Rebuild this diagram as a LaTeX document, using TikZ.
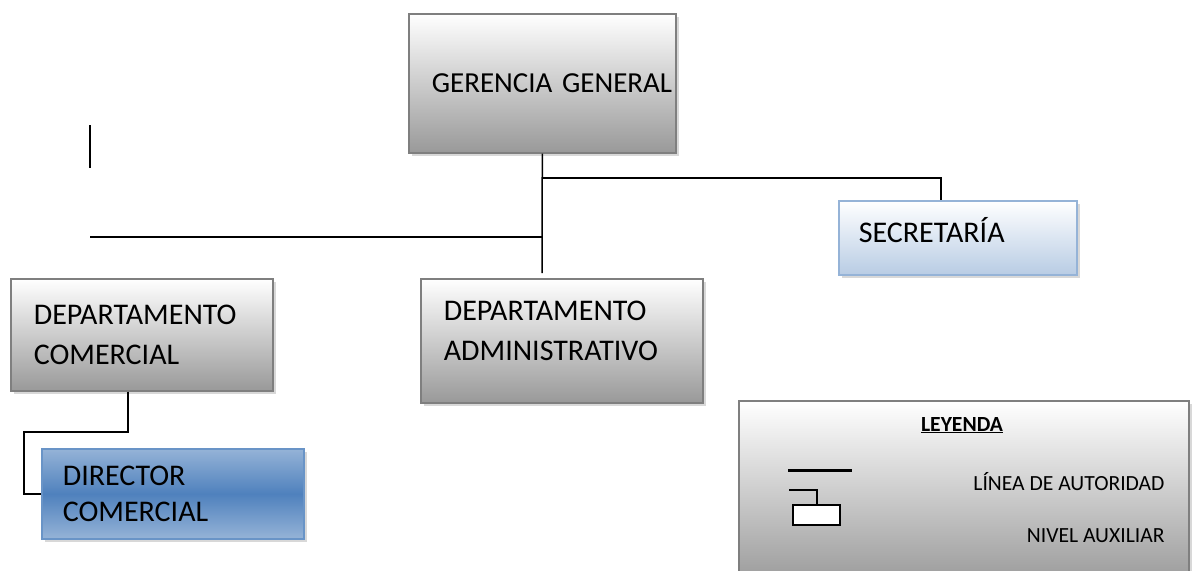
\documentclass[tikz,border=0pt]{standalone}
\usepackage{fontspec}
\setmainfont{Carlito}
\usepackage{tikz}
\usetikzlibrary{shadows,calc}

\definecolor{boxgray}{HTML}{7F7F7F}
\definecolor{lightblue}{HTML}{B8CCE4}
\definecolor{midblue}{HTML}{95B3D7}
\definecolor{darkblue}{HTML}{4F81BD}

\begin{document}
\begin{tikzpicture}[x=1pt,y=-1pt]
\tikzset{
	org box/.style = {rectangle, anchor = north west, align = left, inner xsep = 23pt, inner ysep = 0pt,
		line width = 1.6pt, font = \fontsize{30}{40}\selectfont,
		drop shadow = {shadow xshift = 3pt, shadow yshift = -3pt, fill = black!30}},
	gray box/.style = {org box, draw = boxgray, top color = white, bottom color = black!40},
	light box/.style = {org box, draw = midblue, top color = white, bottom color = lightblue},
	blue box/.style = {org box, draw = darkblue!85, top color = midblue, bottom color = midblue, middle color = darkblue},
	legend text/.style = {font = \fontsize{21.6}{24}\selectfont},
	link/.style = {line width = 1.5pt},
}
\useasboundingbox (0,0) rectangle (1198,570);

% boxes
\node(gg)[gray box, minimum width = 267pt, minimum height = 139pt, text width = 221pt,
	font = \fontsize{29}{40}\selectfont] at (408,13) {\mbox{GERENCIA GENERAL}};
\node(sec)[light box, minimum width = 238pt, minimum height = 74pt, text width = 198pt, inner xsep = 20pt, text depth = 15pt] at (838,200) {SECRETARÍA};
\node(dc)[gray box, minimum width = 262pt, minimum height = 112pt, text width = 216pt] at (10,278) {DEPARTAMENTO\\COMERCIAL};
\node(da)[gray box, minimum width = 282pt, minimum height = 124pt, text width = 236pt, text depth = 60pt] at (420,278) {DEPARTAMENTO\\ADMINISTRATIVO};
\node(dir)[blue box, minimum width = 262pt, minimum height = 90pt, text width = 220pt, inner xsep = 21pt,
	font = \fontsize{30}{36}\selectfont] at (41,448) {DIRECTOR\\COMERCIAL};

% connectors
\coordinate (trunk) at (542,273);
\coordinate (secfork) at (542,178);
\coordinate (leftend) at (90,237);
\coordinate (stroke top) at (90,125);
\coordinate (stroke bottom) at (90,168);
\coordinate (elbow) at (24,432);

\draw[link] (gg.south) -- (trunk);
\draw[link] (secfork) -| ([xshift=-17pt]sec.north);
\draw[link] (leftend) -- (leftend -| trunk);
\draw[link] (stroke top) -- (stroke bottom);
\draw[link] ([xshift=-14pt]dc.south) |- (elbow) |- (dir.west);

% legend
\node(leg)[rectangle, anchor = north west, draw = boxgray, line width = 1.6pt, top color = white, bottom color = black!40,
	minimum width = 450pt, minimum height = 185pt,
	drop shadow = {shadow xshift = 3pt, shadow yshift = -3pt, fill = black!30}] at (738,400) {};
\node(legtitle)[legend text] at (962,425) {\underline{\textbf{LEYENDA}}};
\node(legline)[legend text, anchor = east] at (1168,482) {LÍNEA DE AUTORIDAD};
\node(legaux)[legend text, anchor = east] at (1168,536) {NIVEL AUXILIAR};
\draw[line width = 3pt] (788,470) -- (852,470);
\draw[line width = 1.3pt] (789,490) -- (817,490) -- (817,505);
\draw[line width = 1.3pt, fill = white] (793,505) rectangle (840,525);

\end{tikzpicture}
\end{document}
